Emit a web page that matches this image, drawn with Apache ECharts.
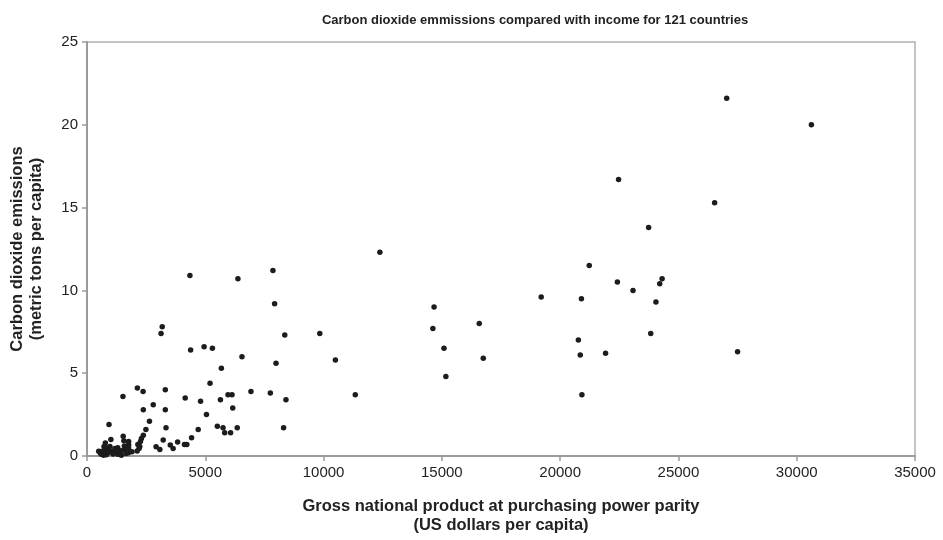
<!DOCTYPE html>
<html>
<head>
<meta charset="utf-8">
<script src="https://cdn.jsdelivr.net/npm/echarts@6/dist/echarts.min.js"></script>
<style>
html,body{margin:0;padding:0;background:#fff;}
#chart{width:943px;height:540px;}
</style>
</head>
<body>
<div id="chart"></div>
<script>
var titleText = "Carbon dioxide emmissions compared with income for 121 countries";
var xAxisName = "Gross national product at purchasing power parity\n(US dollars per capita)";
var yAxisName = "Carbon dioxide emissions\n(metric tons per capita)";
var xTicks = [0, 5000, 10000, 15000, 20000, 25000, 30000, 35000];
var yTicks = [0, 5, 10, 15, 20, 25];

// GNP PPP (US$ per capita)
var gnp = [
  27040, 30620, 22470, 26530, 23740, 12380, 21230, 22420, 23080, 24310,
  24210, 20900, 24050, 23830, 20770, 20850, 21920, 27500, 20920, 19200,
  14670, 14620, 16580, 15090, 16750, 15170, 7860, 6380, 7930, 8360,
  9840, 10500, 11340, 4950, 5300, 6550, 5680, 7990, 5200, 6930,
  7750, 5960, 6130, 5640, 8410, 4800, 6160, 5050, 5510, 5750,
  6350, 8310, 5820, 6070, 4350, 3180, 3130, 4380, 2130, 2370,
  3310, 1520, 4150, 2800, 2380, 3310, 2640, 3340, 2490, 930,
  4700, 4420, 3830, 4120, 4220, 3520, 3640, 3220, 2920, 3080,
  1010, 1530, 2380, 2300, 2260, 2230, 2200, 2120, 2150, 1760,
  1760, 1760, 1750, 775, 720, 860, 970, 494, 634, 747,
  859, 1000, 1141, 1226, 1339, 1560, 1580, 1590, 1450, 600,
  820, 1100, 1300, 1450, 700, 1180, 1300, 900, 1650, 560,
  1900
];
// CO2 emissions (metric tons per capita)
var co2 = [
  21.6, 20.0, 16.7, 15.3, 13.8, 12.3, 11.5, 10.5, 10.0, 10.7,
  10.4, 9.5, 9.3, 7.4, 7.0, 6.1, 6.2, 6.3, 3.7, 9.6,
  9.0, 7.7, 8.0, 6.5, 5.9, 4.8, 11.2, 10.7, 9.2, 7.3,
  7.4, 5.8, 3.7, 6.6, 6.5, 6.0, 5.3, 5.6, 4.4, 3.9,
  3.8, 3.7, 3.7, 3.4, 3.4, 3.3, 2.9, 2.5, 1.8, 1.7,
  1.7, 1.7, 1.4, 1.4, 10.9, 7.8, 7.4, 6.4, 4.1, 3.9,
  4.0, 3.6, 3.5, 3.1, 2.8, 2.8, 2.1, 1.7, 1.6, 1.9,
  1.6, 1.1, 0.85, 0.7, 0.7, 0.66, 0.46, 0.97, 0.56, 0.4,
  1.0, 1.2, 1.25, 1.05, 0.88, 0.58, 0.45, 0.3, 0.7, 0.88,
  0.68, 0.48, 0.2, 0.78, 0.58, 0.48, 0.58, 0.28, 0.28, 0.28,
  0.28, 0.28, 0.28, 0.28, 0.28, 0.92, 0.6, 0.38, 0.32, 0.1,
  0.08, 0.12, 0.1, 0.05, 0.05, 0.45, 0.5, 0.2, 0.15, 0.2,
  0.25
];

var points = gnp.map(function (g, i) { return [g, co2[i]]; });

var chart = echarts.init(document.getElementById('chart'), null, {renderer: 'canvas'});
var font = '"Liberation Sans", Arial, sans-serif';
var axisGray = '#9a9a9a';
var plain = function (v) { return String(v); };

chart.setOption({
  backgroundColor: '#ffffff',
  animation: false,
  title: {
    text: titleText,
    left: 530,
    top: 9,
    textAlign: 'center',
    textStyle: {fontFamily: font, fontSize: 13, fontWeight: 'bold', color: '#222'}
  },
  grid: {
    left: 87, right: 28, top: 42, bottom: 82,
    show: true, borderColor: '#b0b0b0', borderWidth: 1.5, backgroundColor: 'transparent'
  },
  xAxis: {
    type: 'value',
    min: xTicks[0], max: xTicks[xTicks.length - 1], interval: xTicks[1] - xTicks[0],
    name: xAxisName,
    nameLocation: 'middle',
    nameGap: 41,
    nameTextStyle: {fontFamily: font, fontSize: 16.5, fontWeight: 'bold', color: '#222', lineHeight: 19},
    axisLine: {show: true, onZero: false, lineStyle: {color: axisGray, width: 2}},
    axisTick: {show: true, inside: false, length: 5, lineStyle: {color: axisGray, width: 1.5}},
    axisLabel: {fontFamily: font, fontSize: 15, color: '#222', margin: 9, formatter: plain},
    splitLine: {show: false}
  },
  yAxis: {
    type: 'value',
    min: yTicks[0], max: yTicks[yTicks.length - 1], interval: yTicks[1] - yTicks[0],
    name: yAxisName,
    nameLocation: 'middle',
    nameGap: 41,
    nameRotate: 90,
    nameTextStyle: {fontFamily: font, fontSize: 16.5, fontWeight: 'bold', color: '#222', lineHeight: 19},
    axisLine: {show: true, onZero: false, lineStyle: {color: axisGray, width: 2}},
    axisTick: {show: true, inside: false, length: 5, lineStyle: {color: axisGray, width: 1.5}},
    axisLabel: {fontFamily: font, fontSize: 15, color: '#222', margin: 9, formatter: plain},
    splitLine: {show: false}
  },
  series: [{
    type: 'scatter',
    data: points,
    symbol: 'circle',
    symbolSize: 5.5,
    itemStyle: {color: '#1c1c1c', opacity: 1},
    silent: true
  }]
});
</script>
</body>
</html>
